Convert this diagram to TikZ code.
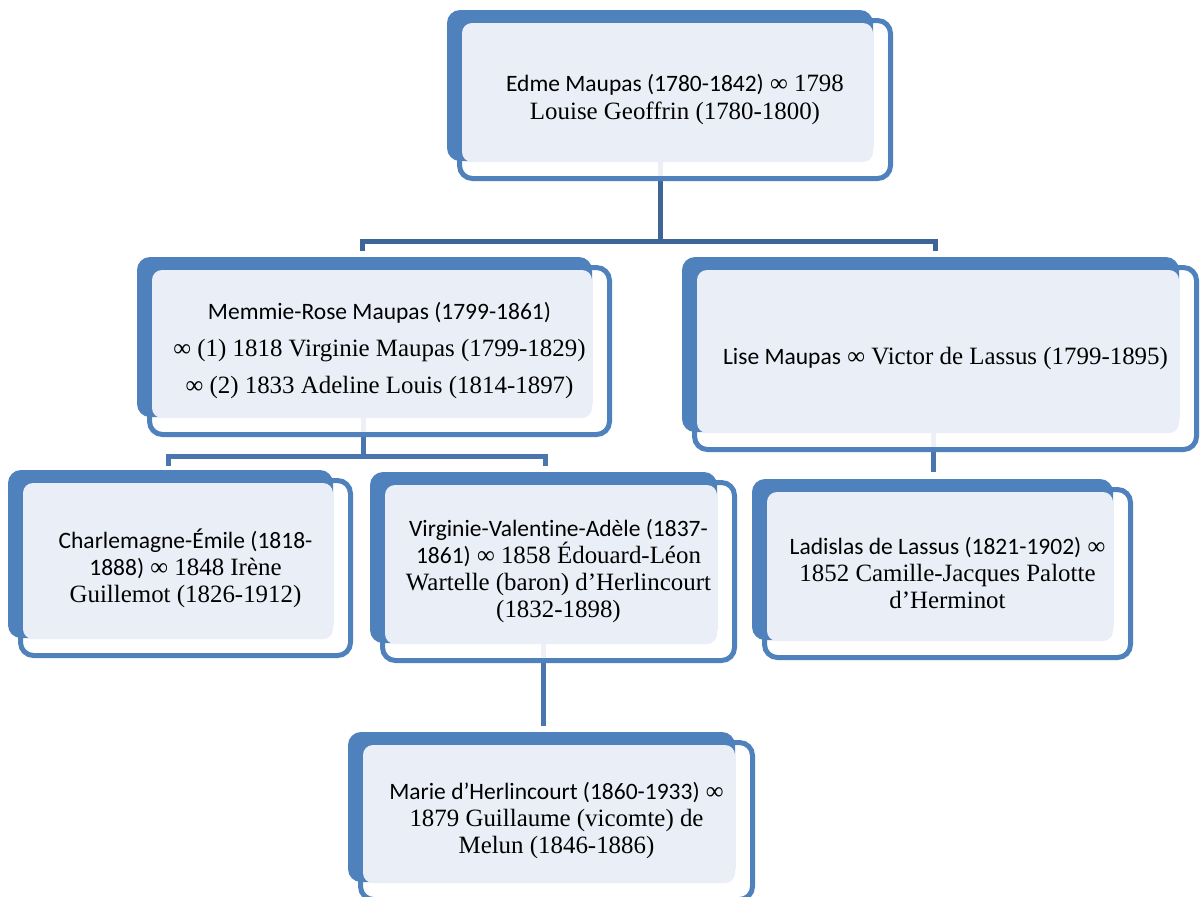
\documentclass[tikz,border=0pt]{standalone}
\usepackage{fontspec}
\setmainfont{Liberation Serif}
\newfontfamily\csans{Carlito}[Ligatures={NoCommon}]
\newfontfamily\cserif{Liberation Serif}[Scale=1.06]
\usetikzlibrary{calc,backgrounds}
\definecolor{boxblue}{RGB}{79,129,189}
\definecolor{boxfill}{RGB}{234,239,247}
\definecolor{conA}{RGB}{62,101,151}
\definecolor{conB}{RGB}{74,117,175}
\tikzset{
  famnode/.style={rectangle, inner sep=0pt, align=center,
    font=\fontsize{11.75}{13.5}\selectfont\cserif, text=black},
  outl/.style={draw=boxblue, line width=2.5pt, fill=white, fill opacity=0.9, rounded corners=6.5pt},
  backr/.style={fill=boxblue, rounded corners=6.5pt},
  fillr/.style={fill=boxfill, rounded corners=5pt},
  conlineA/.style={draw=conA, line width=2.5pt},
  conlineB/.style={draw=conB, line width=2.5pt},
}
\newcommand\famBox[6]{%
  \path[outl] (#2+2.5,#3+2.5) rectangle (#4-2.5,#5-2.5);
  \path[backr] (#2-10,#3-8) rectangle (#4-20,#5-20);
  \path[fillr] (#2+5,#3+5) rectangle (#4-20,#5-19);
  \node[famnode, minimum width={(#4-#2)*0.5pt}, minimum height={(#5-#3)*0.5pt}]
    (#1) at ({(#2+#4)/2},{(#3+#5)/2}) {#6};
}
\begin{document}
\begin{tikzpicture}[x=0.5pt,y=-0.5pt]
\useasboundingbox (0,0) rectangle (1200,896);
\clip (0,0) rectangle (1200,896);

\famBox{edme}{457}{18}{893}{181}{{\csans Edme Maupas (1780-1842)} ∞ 1798\\[0.5pt] Louise Geoffrin (1780-1800)}
\famBox{memmie}{147}{265}{612}{437}{{\csans Memmie-Rose Maupas (1799-1861)}\\[5pt] ∞ (1) 1818 Virginie Maupas (1799-1829)\\[5pt] ∞ (2) 1833 Adeline Louis (1814-1897)}
\famBox{lise}{692}{265}{1199}{452}{{\csans Lise Maupas} ∞ Victor de Lassus (1799-1895)}
\famBox{charl}{18}{478}{353}{658}{{\csans Charlemagne-Émile (1818-}\\ {\csans 1888)} ∞ 1848 Irène\\ Guillemot (1826-1912)}
\famBox{virg}{380}{480}{737}{663}{{\csans Virginie-Valentine-Adèle (1837-}\\ {\csans 1861)} ∞ 1858 Édouard-Léon\\ Wartelle (baron) d’Herlincourt\\ (1832-1898)}
\famBox{ladis}{762}{487}{1133}{660}{{\csans Ladislas de Lassus (1821-1902)} ∞\\ 1852 Camille-Jacques Palotte\\ d’Herminot}
\famBox{marie}{358}{740}{755}{902}{{\csans Marie d’Herlincourt (1860-1933)} ∞\\ 1879 Guillaume (vicomte) de\\ Melun (1846-1886)}

\coordinate (j1) at (660,241);
\coordinate (hL1) at (362,241);
\coordinate (hR1) at (935,241);
\coordinate (j2) at (363,456);
\coordinate (hL2) at (168,456);
\coordinate (hR2) at (545,456);
\coordinate (j3) at (933,0);
\coordinate (j4) at (543,0);

\begin{scope}[on background layer]
  \fill[white] (0,0) rectangle (1200,896);
  \draw[conlineA] (j1 |- edme.center) -- (j1);
  \draw[conlineA] ($(hL1 |- memmie.north)+(0,-14)$) -- (hL1) -- (hR1) -- ($(hR1 |- lise.north)+(0,-14)$);
  \draw[conlineB] (j2 |- memmie.center) -- (j2);
  \draw[conlineB] ($(hL2 |- charl.north)+(0,-12)$) -- (hL2) -- (hR2) -- ($(hR2 |- virg.north)+(0,-14)$);
  \draw[conlineB] (j3 |- lise.center) -- ($(j3 |- ladis.north)+(0,-15)$);
  \draw[conlineB] (j4 |- virg.center) -- ($(j4 |- marie.north)+(0,-14)$);
\end{scope}
\end{tikzpicture}
\end{document}
